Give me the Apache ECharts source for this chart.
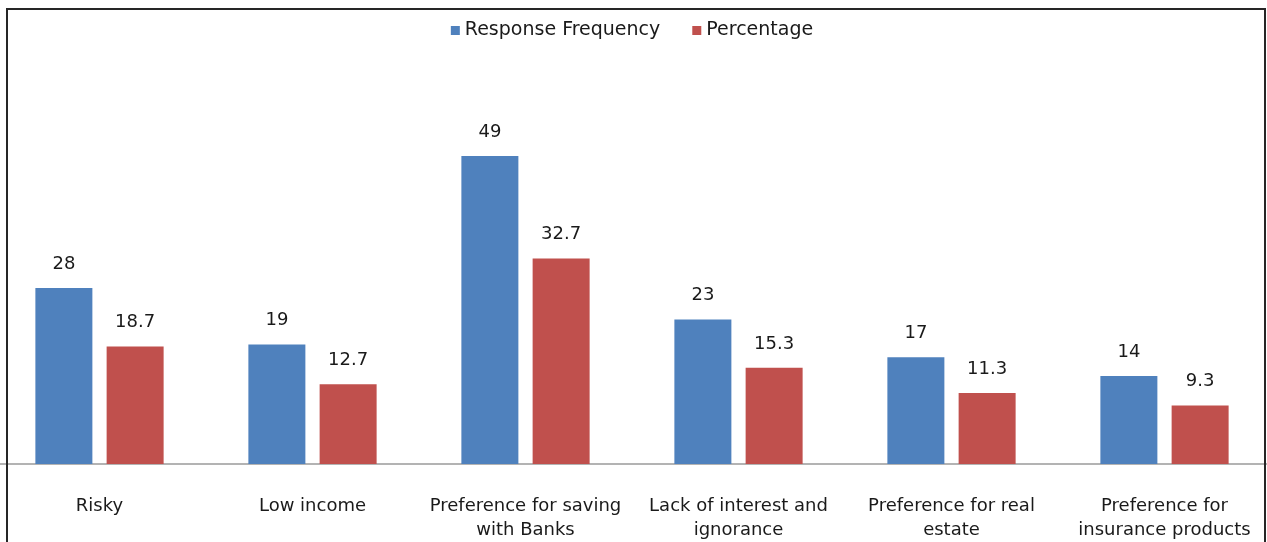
<!DOCTYPE html>
<html>
<head>
<meta charset="utf-8">
<script src="https://cdn.jsdelivr.net/npm/echarts@6/dist/echarts.min.js"></script>
<style>
  html, body { margin: 0; padding: 0; background: #fff; overflow: hidden; }
  /* the plot area of the original runs a few px past the frame on both sides */
  #chart { width: 1278px; height: 542px; margin-left: -7px; }
</style>
</head>
<body>
<div id="chart"></div>
<script>
// categories (line breaks as in the original figure)
const categories = [
  'Risky',
  'Low income',
  'Preference for saving\nwith Banks',
  'Lack of interest and\nignorance',
  'Preference for real\nestate',
  'Preference for\ninsurance products'
]
const responseFrequency = [28, 19, 49, 23, 17, 14]
const percentage = [18.7, 12.7, 32.7, 15.3, 11.3, 9.3]

const font = 'DejaVu Sans'

const chart = echarts.init(document.getElementById('chart'))

const valueLabel = {
  show: true,
  position: 'top',
  distance: 15,
  fontFamily: font,
  fontSize: 18,
  color: '#1a1a1a'
}

const option = {
  animation: false,
  textStyle: { fontFamily: font },
  legend: {
    top: 16,
    left: 'center',
    itemWidth: 9,
    itemHeight: 9,
    itemGap: 32,
    icon: 'rect',
    textStyle: { fontFamily: font, fontSize: 19, color: '#1a1a1a' },
    data: ['Response Frequency', 'Percentage']
  },
  grid: {
    top: 87,
    height: 381,
    left: 0,
    right: 0,
    containLabel: false
  },
  xAxis: {
    type: 'category',
    data: categories,
    axisTick: { show: false },
    axisLine: { lineStyle: { color: '#9a9a9a', width: 1.5 } },
    axisLabel: {
      interval: 0,
      margin: 30,
      fontFamily: font,
      fontSize: 18,
      lineHeight: 24,
      color: '#1a1a1a',
      align: 'center'
    }
  },
  yAxis: {
    type: 'value',
    min: 0,
    max: 60,
    show: false,
    splitLine: { show: false }
  },
  series: [
    {
      name: 'Response Frequency',
      type: 'bar',
      data: responseFrequency,
      barWidth: 57,
      barGap: '25%',
      itemStyle: { color: '#4F81BD' },
      label: valueLabel
    },
    {
      name: 'Percentage',
      type: 'bar',
      data: percentage,
      barWidth: 57,
      itemStyle: { color: '#C0504D' },
      label: valueLabel
    }
  ],
  graphic: [
    {
      type: 'rect',
      z: 100,
      silent: true,
      shape: { x: 14, y: 9, width: 1258, height: 600 },
      style: { fill: 'none', stroke: '#262626', lineWidth: 2 }
    }
  ]
}

chart.setOption(option)

window.addEventListener('resize', function() {
  chart.resize()
})
</script>
</body>
</html>
